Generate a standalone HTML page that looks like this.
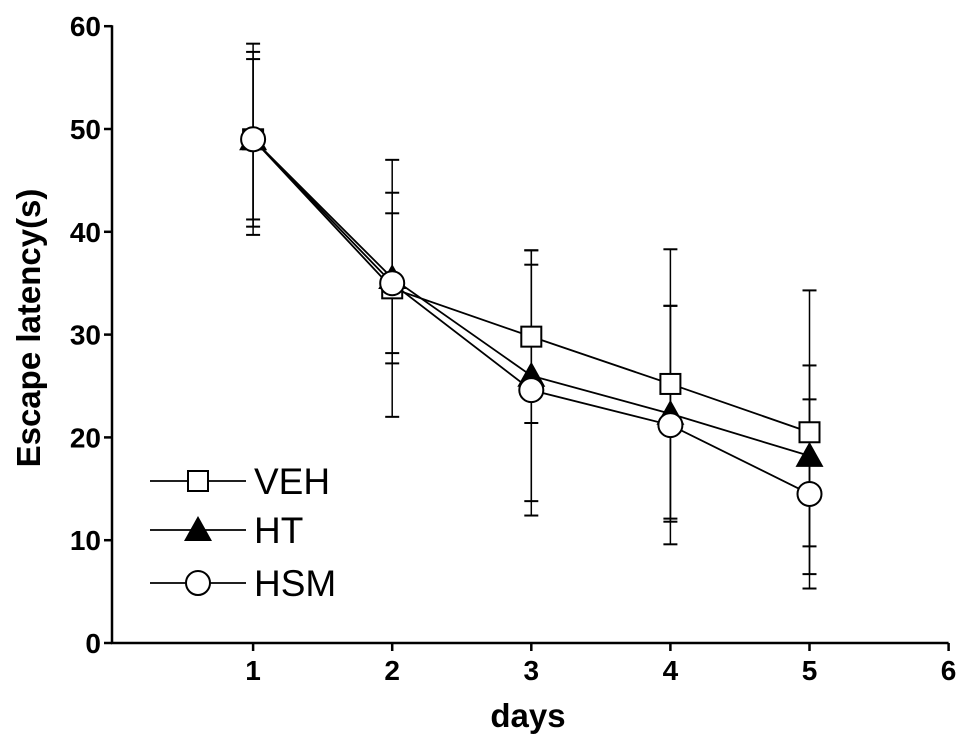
<!DOCTYPE html>
<html><head><meta charset="utf-8"><style>
body{margin:0;background:#fff}
svg{display:block;font-family:"Liberation Sans",Arial,sans-serif}
</style></head><body>
<svg id="chart" width="969" height="746" viewBox="0 0 969 746">
<g id="axes"></g><g id="series"></g><g id="legend"></g>
</svg>
<script>
const days=[1,2,3,4,5];
const vehMean=[49,34.5,29.8,25.2,20.5];
const vehErr=[9.3,12.5,8.4,13.1,13.8];
const htMean=[49,35.5,26,22.3,18.2];
const htErr=[8.5,8.3,12.2,10.5,8.8];
const hsmMean=[49,35,24.6,21.2,14.5];
const hsmErr=[7.8,6.8,12.2,11.6,9.2];
const xTicks=[1,2,3,4,5,6];
const yTicks=[0,10,20,30,40,50,60];
const NS="http://www.w3.org/2000/svg";
const X=d=>114+(d)*139.1;
const Y=v=>643-v*10.28;
function mk(tag,attrs,parent){const e=document.createElementNS(NS,tag);for(const k in attrs)e.setAttribute(k,attrs[k]);parent.appendChild(e);return e;}
const ax=document.getElementById('axes');
let e=mk('line',{x1:112,y1:Y(60)-1,x2:112,y2:644,stroke:'#000','stroke-width':2.5},ax);


e=mk('line',{x1:111,y1:643,x2:X(6),y2:643,stroke:'#000','stroke-width':2.5},ax);


yTicks.forEach(v=>{
 mk('line',{x1:104,y1:Y(v),x2:112,y2:Y(v),stroke:'#000','stroke-width':2.5},ax);
 const t=mk('text',{x:101,y:Y(v)+10,'text-anchor':'end','font-size':28,'font-weight':'bold'},ax);
 t.textContent=v;
 
 
});
xTicks.forEach(v=>{
 mk('line',{x1:X(v),y1:643,x2:X(v),y2:651,stroke:'#000','stroke-width':2.5},ax);
 const t=mk('text',{x:X(v),y:680,'text-anchor':'middle','font-size':28,'font-weight':'bold'},ax);
 t.textContent=v;
 
 
});
e=mk('text',{x:528,y:727,'text-anchor':'middle','font-size':33,'font-weight':'bold'},ax);
e.textContent='days';


e=mk('text',{x:0,y:0,'text-anchor':'middle','font-size':33,'font-weight':'bold',transform:'translate(40,328) rotate(-90)'},ax);
e.textContent='Escape latency(s)';



function marker(kind,x,y,parent){
 if(kind==='sq')return mk('rect',{x:x-10,y:y-10,width:20,height:20,fill:'#fff',stroke:'#000','stroke-width':2},parent);
 if(kind==='tri')return mk('polygon',{points:`${x},${y-14} ${x-14},${y+11} ${x+14},${y+11}`,fill:'#000'},parent);
 return mk('circle',{cx:x,cy:y,r:12,fill:'#fff',stroke:'#000','stroke-width':2},parent);
}
const ser=document.getElementById('series');
const all=[['veh',vehMean,vehErr,'sq'],['ht',htMean,htErr,'tri'],['hsm',hsmMean,hsmErr,'circ']];
all.forEach(([n,m,er])=>{
 const g=mk('g',{},ser);
 
 
 days.forEach((d,i)=>{
  const x=X(d);
  mk('line',{x1:x,y1:Y(m[i]+er[i]),x2:x,y2:Y(m[i]-er[i]),stroke:'#000','stroke-width':1.5},g);
  mk('line',{x1:x-7,y1:Y(m[i]+er[i]),x2:x+7,y2:Y(m[i]+er[i]),stroke:'#000','stroke-width':2},g);
  mk('line',{x1:x-7,y1:Y(m[i]-er[i]),x2:x+7,y2:Y(m[i]-er[i]),stroke:'#000','stroke-width':2},g);
 });
});
all.forEach(([n,m])=>{
 const p=mk('polyline',{points:days.map((d,i)=>X(d)+','+Y(m[i])).join(' '),fill:'none',stroke:'#000','stroke-width':1.8},ser);
 
 
});
all.forEach(([n,m,er,k])=>{
 days.forEach((d,i)=>{
  const mm=marker(k,X(d),Y(m[i]),ser);
  
  
 });
});
const lg=document.getElementById('legend');
[['VEH','sq',481],['HT','tri',530],['HSM','circ',583]].forEach(([lab,k,y])=>{
 const g=mk('g',{},lg);
 
 
 mk('line',{x1:150,y1:y,x2:246,y2:y,stroke:'#000','stroke-width':1.8},g);
 marker(k,198,y,g);
 const t=mk('text',{x:254,y:y+13,'font-size':37},g);
 t.textContent=lab;
});
</script>
</body></html>
